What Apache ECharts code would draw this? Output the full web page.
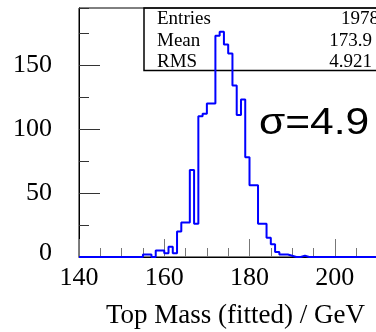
<!DOCTYPE html>
<html>
<head>
<meta charset="utf-8">
<script src="https://cdn.jsdelivr.net/npm/echarts@6/dist/echarts.min.js"></script>
<style>html,body{margin:0;padding:0;background:#fff;}#c{width:376px;height:332px;}</style>
</head>
<body>
<div id="c"></div>
<script>
// Histogram: 1 GeV bins from 140 to 220 (counts per bin, lower edge = 140 + index)
const binLow = 140;
const binHigh = 220;
const counts = [
  0,0,0,0,0, 0,0,0,0,0, 0,0,0,0,0,          // 140-154
  2,2,0,5,5, 3,8,3,20,27, 27,68,26,110,112, // 155-169
  120,120,173,176,166, 159,134,111,123,78,  // 170-179
  56,56,26,26,15, 10,4,2,2,1,               // 180-189
  0,0,1,0,0, 0,0,0,0,0,                     // 190-199
  0,0,0,0,0, 0,0,0,0,0,                     // 200-209
  0,0,0,0,0, 0,0,0,0,0                      // 210-219
];
const xTickLabels = [140, 160, 180, 200, 220];
const yTickLabels = [0, 50, 100, 150];
const statsLabels = ['Entries', 'Mean', 'RMS'];
const statsValues = ['1978', '173.9', '4.921'];
const sigmaText = 'σ=4.9';
const xTitle = 'Top Mass (fitted) / GeV';

const stepData = counts.map((c, i) => [binLow + i, c]);
stepData.push([binHigh, counts[counts.length - 1]]);

const serif = 'Liberation Serif';
const chart = echarts.init(document.getElementById('c'), null, {renderer: 'canvas'});

const statsGraphics = [];
const rowY = [19.5, 41, 62.5];
const valRight = [379, 372, 372];
statsLabels.forEach((t, i) => {
  statsGraphics.push({type: 'text', z: 1, x: 157, y: rowY[i],
    style: {text: t, fontFamily: serif, fontSize: 19, fill: '#000', textAlign: 'left', textVerticalAlign: 'middle'}});
  statsGraphics.push({type: 'text', z: 1, x: valRight[i], y: rowY[i],
    style: {text: statsValues[i], fontFamily: serif, fontSize: 19, fill: '#000', textAlign: 'right', textVerticalAlign: 'middle'}});
});

chart.setOption({
  animation: false,
  grid: {left: 79, top: 8, right: -44, bottom: 75, containLabel: false, outerBoundsMode: 'none',
    show: true, borderColor: '#000', borderWidth: 1, backgroundColor: 'transparent'},
  xAxis: {
    type: 'value', min: binLow, max: binHigh, interval: 20,
    axisLine: {show: true, onZero: false, lineStyle: {color: '#000', width: 1}},
    axisTick: {show: true, inside: true, length: 18, lineStyle: {color: '#777', width: 1}},
    minorTick: {show: true, splitNumber: 4, length: 9, lineStyle: {color: '#777', width: 1}},
    splitLine: {show: false}, minorSplitLine: {show: false},
    axisLabel: {show: true, margin: 8, fontFamily: serif, fontSize: 26, color: '#000', hideOverlap: false,
      formatter: v => xTickLabels.indexOf(v) >= 0 ? String(v) : ''}
  },
  yAxis: [{
    type: 'value', min: 0, max: 194.6, interval: 50,
    axisLine: {show: true, onZero: false, lineStyle: {color: '#000', width: 1}},
    axisTick: {show: true, inside: true, length: 21, lineStyle: {color: '#333', width: 1}},
    splitLine: {show: false},
    axisLabel: {show: true, margin: 27, fontFamily: serif, fontSize: 26, color: '#000', showMaxLabel: false,
      formatter: v => yTickLabels.indexOf(v) < 0 ? '' : (v === 0 ? '{z|0}' : String(v)),
      rich: {z: {fontFamily: serif, fontSize: 26, color: '#000', padding: [0, 0, 8, 0]}}}
  }, {
    type: 'value', min: 0, max: 194.6, interval: 25, position: 'left', offset: 0,
    axisLine: {show: false},
    axisTick: {show: true, inside: true, length: 10, lineStyle: {color: '#333', width: 1}},
    splitLine: {show: false},
    axisLabel: {show: false}
  }],
  series: [{
    type: 'line', step: 'end', data: stepData, yAxisIndex: 0,
    showSymbol: false, symbol: 'none', z: 5,
    lineStyle: {color: '#0000ff', width: 2}
  }],
  graphic: [
    {type: 'rect', z: 1, shape: {x: 144, y: 8, width: 260, height: 62.5},
      style: {fill: 'none', stroke: '#000', lineWidth: 1.5}},
    ...statsGraphics,
    {type: 'text', z: 1, x: 259, y: 124, scaleX: 1.15, scaleY: 1,
      style: {text: sigmaText, fontFamily: 'Liberation Sans', fontSize: 37, fill: '#000', textAlign: 'left', textVerticalAlign: 'middle'}},
    {type: 'text', z: 1, x: 365, y: 315.6,
      style: {text: xTitle, fontFamily: serif, fontSize: 27, fill: '#000', textAlign: 'right', textVerticalAlign: 'middle'}}
  ]
});
</script>
</body>
</html>
